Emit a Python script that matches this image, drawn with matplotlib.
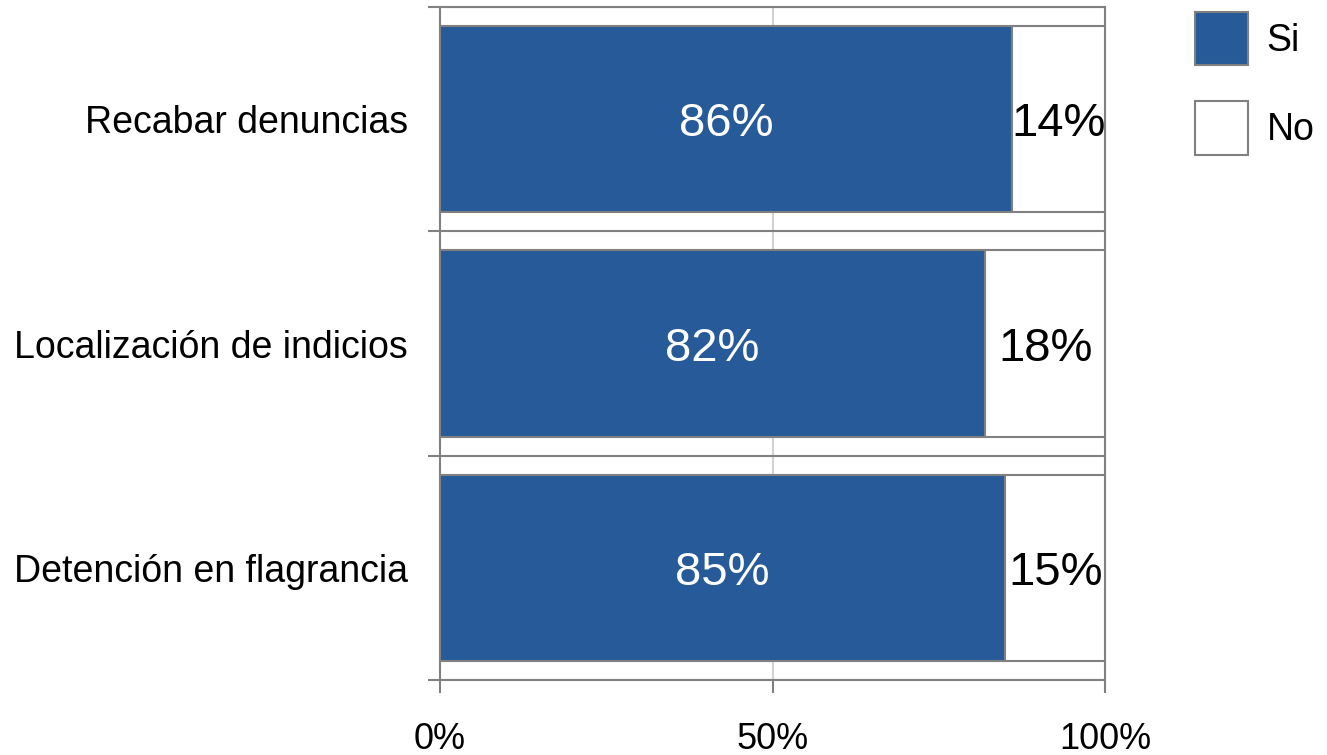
import numpy as np
import matplotlib.pyplot as plt
from matplotlib.ticker import FixedLocator

plt.rcParams['font.family'] = ['Liberation Sans', 'DejaVu Sans']

# Data
categories = ['Recabar denuncias', 'Localización de indicios', 'Detención en flagrancia']
si_values = [86, 82, 85]
no_values = [14, 18, 15]

blue = '#265a99'
edge = '#808080'

fig = plt.figure(figsize=(13.27, 7.55), dpi=100)
ax = fig.add_axes([440/1327, 1 - 680/755, 665/1327, 673/755])

y = np.arange(len(categories))
h = 0.83
bars_si = ax.barh(y, si_values, h, color=blue, edgecolor=edge, linewidth=1.5, label='Si', zorder=3)
bars_no = ax.barh(y, no_values, h, left=si_values, color='white', edgecolor=edge, linewidth=1.5, label='No', zorder=3)

lab_si = ax.bar_label(bars_si, labels=[f'{v}%' for v in si_values], label_type='center', color='white', fontsize=34)
lab_no = ax.bar_label(bars_no, labels=[f'{v}%' for v in no_values], label_type='center', color='black', fontsize=34)
for t in lab_si + lab_no:
    t.set_va('center_baseline')

ax.set_xlim(0, 100)
ax.set_ylim(len(categories) - 0.5, -0.5)

ax.set_xticks([0, 50, 100])
ax.set_xticklabels(['0%', '50%', '100%'], fontsize=26)
ax.set_yticks(y)
ax.set_yticklabels(categories, fontsize=27)
ax.yaxis.set_minor_locator(FixedLocator(np.arange(-0.5, len(categories), 1.0)))

ax.tick_params(axis='y', which='major', length=0, pad=23)
ax.tick_params(axis='y', which='minor', length=9, width=1.5, color=edge)
ax.tick_params(axis='x', which='major', length=9, width=1.5, color=edge, pad=21)

ax.grid(axis='y', which='minor', color=edge, linewidth=1.5, zorder=1)
ax.axvline(50, color='#c8c8c8', linewidth=1.2, zorder=1)

for s in ax.spines.values():
    s.set_color(edge)
    s.set_linewidth(1.5)

leg = ax.legend(loc='upper left', bbox_to_anchor=(1195/1327, 1 - 12/755), bbox_transform=fig.transFigure,
                frameon=False, fontsize=27, handlelength=1.414, handleheight=1.8,
                labelspacing=0.97, handletextpad=0.5, borderaxespad=0, borderpad=0)

fig.savefig('out.png', dpi=100)
